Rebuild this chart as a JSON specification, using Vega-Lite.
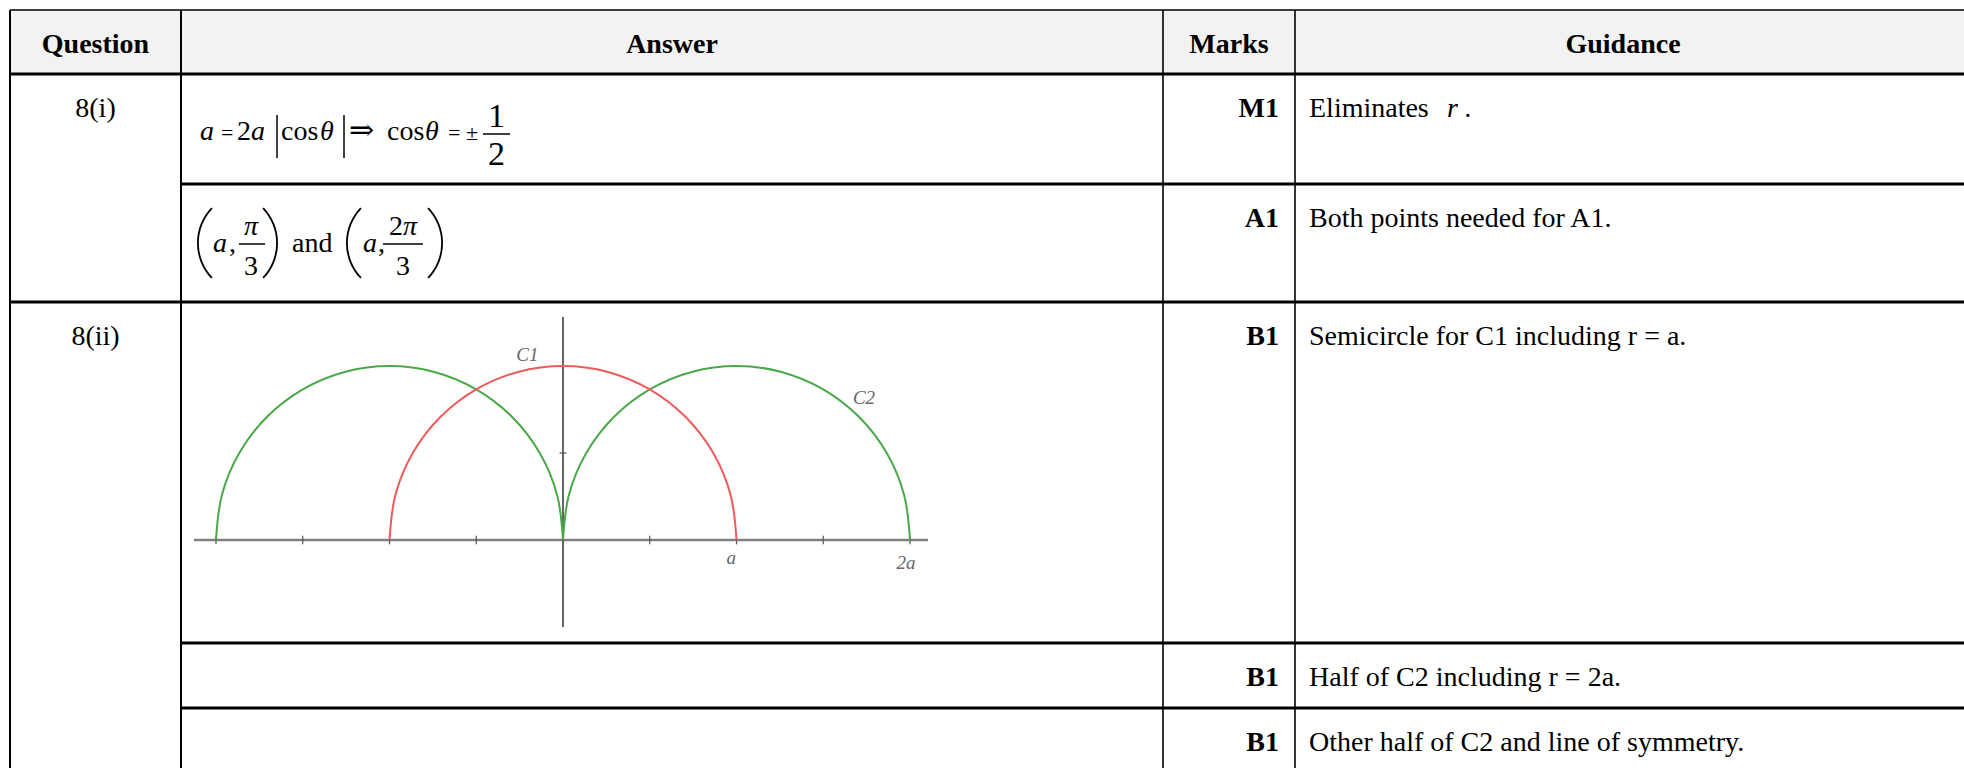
{
  "$schema": "https://vega.github.io/schema/vega-lite/v6.json",
  "width": 1964,
  "height": 768,
  "padding": 0,
  "autosize": {"type": "none"},
  "background": "#ffffff",
  "config": {"view": {"stroke": null}},
  "resolve": {"scale": {"x": "independent", "y": "independent", "size": "independent", "color": "independent", "strokeWidth": "independent"}},
  "layer": [
    {
      "layer": [
        {
          "data": {"values": [{"x0": 0, "x1": 4.1, "y0": 0, "y1": 1}]},
          "mark": {"type": "rect", "fill": "#f2f2f2"},
          "encoding": {
            "x": {"field": "x0", "type": "quantitative", "axis": null, "scale": {"domain": [0, 1, 2, 3, 4], "range": [10, 181, 1163, 1295, 1951], "zero": false, "nice": false}},
            "x2": {"field": "x1"},
            "y": {"field": "y0", "type": "quantitative", "axis": null, "scale": {"domain": [0, 1, 2, 3, 4, 5, 6], "range": [10, 74, 184, 302, 643, 708, 768], "zero": false, "nice": false}},
            "y2": {"field": "y1"}
          }
        },
        {
          "data": {"values": [
            {"x0": 0, "x1": 4.1, "y": 0, "k": "b"},
            {"x0": 0, "x1": 4.1, "y": 1, "k": "t"},
            {"x0": 1, "x1": 4.1, "y": 2, "k": "t"},
            {"x0": 0, "x1": 4.1, "y": 3, "k": "t"},
            {"x0": 1, "x1": 4.1, "y": 4, "k": "t"},
            {"x0": 1, "x1": 4.1, "y": 5, "k": "t"}
          ]},
          "mark": {"type": "rule", "color": "#000000"},
          "encoding": {
            "x": {"field": "x0", "type": "quantitative", "axis": null, "scale": {"domain": [0, 1, 2, 3, 4], "range": [10, 181, 1163, 1295, 1951], "zero": false, "nice": false}},
            "x2": {"field": "x1"},
            "y": {"field": "y", "type": "quantitative", "axis": null, "scale": {"domain": [0, 1, 2, 3, 4, 5, 6], "range": [10, 74, 184, 302, 643, 708, 768], "zero": false, "nice": false}},
            "strokeWidth": {"field": "k", "type": "nominal", "legend": null, "scale": {"type": "ordinal", "domain": ["b", "t", "v", "w"], "range": [1.5, 3, 2, 1.6]}}
          }
        },
        {
          "data": {"values": [
            {"x": 0, "y0": 0, "y1": 6, "k": "v"},
            {"x": 1, "y0": 0, "y1": 6, "k": "v"},
            {"x": 2, "y0": 0, "y1": 6, "k": "w"},
            {"x": 3, "y0": 0, "y1": 6, "k": "w"}
          ]},
          "mark": {"type": "rule", "color": "#000000"},
          "encoding": {
            "x": {"field": "x", "type": "quantitative", "axis": null, "scale": {"domain": [0, 1, 2, 3, 4], "range": [10, 181, 1163, 1295, 1951], "zero": false, "nice": false}},
            "y": {"field": "y0", "type": "quantitative", "axis": null, "scale": {"domain": [0, 1, 2, 3, 4, 5, 6], "range": [10, 74, 184, 302, 643, 708, 768], "zero": false, "nice": false}},
            "y2": {"field": "y1"},
            "strokeWidth": {"field": "k", "type": "nominal", "legend": null, "scale": {"type": "ordinal", "domain": ["b", "t", "v", "w"], "range": [1.5, 3, 2, 1.6]}}
          }
        }
      ]
    },
    {
      "layer": [
        {
          "data": {"values": [{"x0": -2.127, "x1": 2.104, "gy": 0}]},
          "mark": {"type": "rule", "color": "#808080", "strokeWidth": 2.5},
          "encoding": {
            "x": {"field": "x0", "type": "quantitative", "axis": null, "scale": {"domain": [0, 1], "range": [563, 736.5], "zero": false, "nice": false}},
            "x2": {"field": "x1"},
            "y": {"field": "gy", "type": "quantitative", "axis": null, "scale": {"domain": [0, 1], "range": [540, 366], "zero": false, "nice": false}}
          }
        },
        {
          "data": {"values": [{"x0": -0.02, "x1": 0.02, "gy": 0.5}]},
          "mark": {"type": "rule", "color": "#555555", "strokeWidth": 1.2},
          "encoding": {
            "x": {"field": "x0", "type": "quantitative", "axis": null, "scale": {"domain": [0, 1], "range": [563, 736.5], "zero": false, "nice": false}},
            "x2": {"field": "x1"},
            "y": {"field": "gy", "type": "quantitative", "axis": null, "scale": {"domain": [0, 1], "range": [540, 366], "zero": false, "nice": false}}
          }
        },
        {
          "data": {"values": [{"gx": 0, "y0": -0.5, "y1": 1.282}]},
          "mark": {"type": "rule", "color": "#555555", "strokeWidth": 1.8},
          "encoding": {
            "x": {"field": "gx", "type": "quantitative", "axis": null, "scale": {"domain": [0, 1], "range": [563, 736.5], "zero": false, "nice": false}},
            "y": {"field": "y0", "type": "quantitative", "axis": null, "scale": {"domain": [0, 1], "range": [540, 366], "zero": false, "nice": false}},
            "y2": {"field": "y1"}
          }
        },
        {
          "data": {"values": [
            {"gx": -2, "y0": -0.025, "y1": 0.025},
            {"gx": -1.5, "y0": -0.025, "y1": 0.025},
            {"gx": -1, "y0": -0.025, "y1": 0.025},
            {"gx": -0.5, "y0": -0.025, "y1": 0.025},
            {"gx": 0.5, "y0": -0.025, "y1": 0.025},
            {"gx": 1, "y0": -0.025, "y1": 0.025},
            {"gx": 1.5, "y0": -0.025, "y1": 0.025},
            {"gx": 2, "y0": -0.025, "y1": 0.025}
          ]},
          "mark": {"type": "rule", "color": "#555555", "strokeWidth": 1.2},
          "encoding": {
            "x": {"field": "gx", "type": "quantitative", "axis": null, "scale": {"domain": [0, 1], "range": [563, 736.5], "zero": false, "nice": false}},
            "y": {"field": "y0", "type": "quantitative", "axis": null, "scale": {"domain": [0, 1], "range": [540, 366], "zero": false, "nice": false}},
            "y2": {"field": "y1"}
          }
        },
        {
          "data": {"values": [
            {"curve": "C2L", "i": 0, "gx": 0, "gy": 0},
            {"curve": "C2L", "i": 1, "gx": -0.034, "gy": 0.259},
            {"curve": "C2L", "i": 2, "gx": -0.134, "gy": 0.5},
            {"curve": "C2L", "i": 3, "gx": -0.293, "gy": 0.707},
            {"curve": "C2L", "i": 4, "gx": -0.5, "gy": 0.866},
            {"curve": "C2L", "i": 5, "gx": -0.741, "gy": 0.966},
            {"curve": "C2L", "i": 6, "gx": -1, "gy": 1},
            {"curve": "C2L", "i": 7, "gx": -1.259, "gy": 0.966},
            {"curve": "C2L", "i": 8, "gx": -1.5, "gy": 0.866},
            {"curve": "C2L", "i": 9, "gx": -1.707, "gy": 0.707},
            {"curve": "C2L", "i": 10, "gx": -1.866, "gy": 0.5},
            {"curve": "C2L", "i": 11, "gx": -1.966, "gy": 0.259},
            {"curve": "C2L", "i": 12, "gx": -2, "gy": 0},
            {"curve": "C2R", "i": 0, "gx": 2, "gy": 0},
            {"curve": "C2R", "i": 1, "gx": 1.966, "gy": 0.259},
            {"curve": "C2R", "i": 2, "gx": 1.866, "gy": 0.5},
            {"curve": "C2R", "i": 3, "gx": 1.707, "gy": 0.707},
            {"curve": "C2R", "i": 4, "gx": 1.5, "gy": 0.866},
            {"curve": "C2R", "i": 5, "gx": 1.259, "gy": 0.966},
            {"curve": "C2R", "i": 6, "gx": 1, "gy": 1},
            {"curve": "C2R", "i": 7, "gx": 0.741, "gy": 0.966},
            {"curve": "C2R", "i": 8, "gx": 0.5, "gy": 0.866},
            {"curve": "C2R", "i": 9, "gx": 0.293, "gy": 0.707},
            {"curve": "C2R", "i": 10, "gx": 0.134, "gy": 0.5},
            {"curve": "C2R", "i": 11, "gx": 0.034, "gy": 0.259},
            {"curve": "C2R", "i": 12, "gx": 0, "gy": 0},
            {"curve": "C1", "i": 0, "gx": 1, "gy": 0},
            {"curve": "C1", "i": 1, "gx": 0.966, "gy": 0.259},
            {"curve": "C1", "i": 2, "gx": 0.866, "gy": 0.5},
            {"curve": "C1", "i": 3, "gx": 0.707, "gy": 0.707},
            {"curve": "C1", "i": 4, "gx": 0.5, "gy": 0.866},
            {"curve": "C1", "i": 5, "gx": 0.259, "gy": 0.966},
            {"curve": "C1", "i": 6, "gx": 0, "gy": 1},
            {"curve": "C1", "i": 7, "gx": -0.259, "gy": 0.966},
            {"curve": "C1", "i": 8, "gx": -0.5, "gy": 0.866},
            {"curve": "C1", "i": 9, "gx": -0.707, "gy": 0.707},
            {"curve": "C1", "i": 10, "gx": -0.866, "gy": 0.5},
            {"curve": "C1", "i": 11, "gx": -0.966, "gy": 0.259},
            {"curve": "C1", "i": 12, "gx": -1, "gy": 0}
          ]},
          "mark": {"type": "line", "strokeWidth": 2, "interpolate": "catmull-rom"},
          "encoding": {
            "x": {"field": "gx", "type": "quantitative", "axis": null, "scale": {"domain": [0, 1], "range": [563, 736.5], "zero": false, "nice": false}},
            "y": {"field": "gy", "type": "quantitative", "axis": null, "scale": {"domain": [0, 1], "range": [540, 366], "zero": false, "nice": false}},
            "order": {"field": "i", "type": "quantitative"},
            "color": {"field": "curve", "type": "nominal", "legend": null, "scale": {"domain": ["C2L", "C2R", "C1"], "range": ["#4aa84a", "#4aa84a", "#f05a5a"]}}
          }
        },
        {
          "data": {"values": [
            {"t": "C1", "gx": -0.205, "gy": 1.063},
            {"t": "C2", "gx": 1.735, "gy": 0.816},
            {"t": "a", "gx": 0.97, "gy": -0.103},
            {"t": "2a", "gx": 1.977, "gy": -0.132}
          ]},
          "mark": {"type": "text", "font": "Liberation Serif", "fontStyle": "italic", "fontSize": 19, "color": "#666666", "align": "center", "baseline": "middle"},
          "encoding": {
            "x": {"field": "gx", "type": "quantitative", "axis": null, "scale": {"domain": [0, 1], "range": [563, 736.5], "zero": false, "nice": false}},
            "y": {"field": "gy", "type": "quantitative", "axis": null, "scale": {"domain": [0, 1], "range": [540, 366], "zero": false, "nice": false}},
            "text": {"field": "t"}
          }
        }
      ]
    },
    {
      "layer": [
        {
          "data": {"values": [
            {"col": 0, "row": 0, "t": "Question"},
            {"col": 1, "row": 0, "t": "Answer"},
            {"col": 2, "row": 0, "t": "Marks"},
            {"col": 3, "row": 0, "t": "Guidance"}
          ]},
          "mark": {"type": "text", "font": "Liberation Serif", "fontWeight": "bold", "fontSize": 28, "color": "#000000", "align": "center", "baseline": "alphabetic", "dy": 43},
          "encoding": {
            "x": {"field": "col", "type": "quantitative", "axis": null, "scale": {"domain": [0, 1, 2, 3], "range": [95.5, 672, 1229, 1623], "zero": false, "nice": false}},
            "y": {"field": "row", "type": "quantitative", "axis": null, "scale": {"domain": [0, 1, 2, 3, 4, 5, 6], "range": [10, 74, 184, 302, 643, 708, 768], "zero": false, "nice": false}},
            "text": {"field": "t"}
          }
        },
        {
          "data": {"values": [
            {"col": 0, "row": 1, "t": "8(i)"},
            {"col": 0, "row": 3, "t": "8(ii)"}
          ]},
          "mark": {"type": "text", "font": "Liberation Serif", "fontSize": 28, "color": "#000000", "align": "center", "baseline": "alphabetic", "dy": 43},
          "encoding": {
            "x": {"field": "col", "type": "quantitative", "axis": null, "scale": {"domain": [0, 1, 2, 3], "range": [95.5, 672, 1229, 1623], "zero": false, "nice": false}},
            "y": {"field": "row", "type": "quantitative", "axis": null, "scale": {"domain": [0, 1, 2, 3, 4, 5, 6], "range": [10, 74, 184, 302, 643, 708, 768], "zero": false, "nice": false}},
            "text": {"field": "t"}
          }
        },
        {
          "data": {"values": [
            {"col": 2, "row": 1, "t": "M1"},
            {"col": 2, "row": 2, "t": "A1"},
            {"col": 2, "row": 3, "t": "B1"},
            {"col": 2, "row": 4, "t": "B1"},
            {"col": 2, "row": 5, "t": "B1"}
          ]},
          "mark": {"type": "text", "font": "Liberation Serif", "fontWeight": "bold", "fontSize": 28, "color": "#000000", "align": "right", "baseline": "alphabetic", "dx": 50, "dy": 43},
          "encoding": {
            "x": {"field": "col", "type": "quantitative", "axis": null, "scale": {"domain": [0, 1, 2, 3], "range": [95.5, 672, 1229, 1623], "zero": false, "nice": false}},
            "y": {"field": "row", "type": "quantitative", "axis": null, "scale": {"domain": [0, 1, 2, 3, 4, 5, 6], "range": [10, 74, 184, 302, 643, 708, 768], "zero": false, "nice": false}},
            "text": {"field": "t"}
          }
        },
        {
          "data": {"values": [
            {"col": 3, "row": 1, "t": "Eliminates"},
            {"col": 3, "row": 2, "t": "Both points needed for A1."},
            {"col": 3, "row": 3, "t": "Semicircle for C1 including r = a."},
            {"col": 3, "row": 4, "t": "Half of C2 including r = 2a."},
            {"col": 3, "row": 5, "t": "Other half of C2 and line of symmetry."}
          ]},
          "mark": {"type": "text", "font": "Liberation Serif", "fontSize": 28, "color": "#000000", "align": "left", "baseline": "alphabetic", "dx": -314, "dy": 43},
          "encoding": {
            "x": {"field": "col", "type": "quantitative", "axis": null, "scale": {"domain": [0, 1, 2, 3], "range": [95.5, 672, 1229, 1623], "zero": false, "nice": false}},
            "y": {"field": "row", "type": "quantitative", "axis": null, "scale": {"domain": [0, 1, 2, 3, 4, 5, 6], "range": [10, 74, 184, 302, 643, 708, 768], "zero": false, "nice": false}},
            "text": {"field": "t"}
          }
        },
        {
          "data": {"values": [{"col": 3, "row": 1, "t": "r\u00a0."}]},
          "mark": {"type": "text", "font": "Liberation Serif", "fontStyle": "italic", "fontSize": 28, "color": "#000000", "align": "left", "baseline": "alphabetic", "dx": -176, "dy": 43},
          "encoding": {
            "x": {"field": "col", "type": "quantitative", "axis": null, "scale": {"domain": [0, 1, 2, 3], "range": [95.5, 672, 1229, 1623], "zero": false, "nice": false}},
            "y": {"field": "row", "type": "quantitative", "axis": null, "scale": {"domain": [0, 1, 2, 3, 4, 5, 6], "range": [10, 74, 184, 302, 643, 708, 768], "zero": false, "nice": false}},
            "text": {"field": "t"}
          }
        }
      ]
    },
    {
      "layer": [
        {
          "data": {"values": [
            {"p": 0, "s": 0, "t": "a", "role": "main"},
            {"p": 3, "s": 0, "t": "a", "role": "main"},
            {"p": 6, "s": 0, "t": "θ", "role": "main"},
            {"p": 10, "s": 0, "t": "θ", "role": "main"},
            {"p": 17, "s": 6, "t": "a", "role": "main"},
            {"p": 20, "s": 7, "t": "π", "role": "main"},
            {"p": 25, "s": 6, "t": "a", "role": "main"},
            {"p": 29, "s": 7, "t": "π", "role": "main"}
          ]},
          "mark": {"type": "text", "font": "Liberation Serif", "fontStyle": "italic", "color": "#000000", "align": "left", "baseline": "alphabetic"},
          "encoding": {
            "x": {"field": "p", "type": "quantitative", "axis": null, "scale": {"domain": [0,1,2,3,4,5,6,7,8,9,10,11,12,13,14,15,16,17,18,19,20,21,22,23,24,25,26,27,28,29,30,31,32,33,34,35,36], "range": [200,221,237,251,277,281,320,344,349,387,425,448,466,483,488,510,192,213,229,239,244,265,260,292,341,363,378,383,389,403,396,423,424,248.5,226.5,397.5,391.5], "zero": false, "nice": false}},
            "y": {"field": "s", "type": "quantitative", "axis": null, "scale": {"domain": [0,1,2,3,4,5,6,7,8,9,10,11], "range": [140,127,165,134,115,158,252,235,275,244,261,243], "zero": false, "nice": false}},
            "size": {"field": "role", "type": "nominal", "legend": null, "scale": {"type": "ordinal", "domain": ["main", "op", "frac"], "range": [28, 22, 34]}},
            "text": {"field": "t"}
          }
        },
        {
          "data": {"values": [
            {"p": 1, "s": 0, "t": "=", "role": "op"},
            {"p": 2, "s": 0, "t": "2", "role": "main"},
            {"p": 5, "s": 0, "t": "cos", "role": "main"},
            {"p": 9, "s": 0, "t": "cos", "role": "main"},
            {"p": 11, "s": 0, "t": "=", "role": "op"},
            {"p": 12, "s": 0, "t": "±", "role": "op"},
            {"p": 14, "s": 1, "t": "1", "role": "frac"},
            {"p": 14, "s": 2, "t": "2", "role": "frac"},
            {"p": 18, "s": 6, "t": ",", "role": "main"},
            {"p": 20, "s": 8, "t": "3", "role": "main"},
            {"p": 23, "s": 6, "t": "and", "role": "main"},
            {"p": 26, "s": 6, "t": ",", "role": "main"},
            {"p": 28, "s": 7, "t": "2", "role": "main"},
            {"p": 30, "s": 8, "t": "3", "role": "main"}
          ]},
          "mark": {"type": "text", "font": "Liberation Serif", "color": "#000000", "align": "left", "baseline": "alphabetic"},
          "encoding": {
            "x": {"field": "p", "type": "quantitative", "axis": null, "scale": {"domain": [0,1,2,3,4,5,6,7,8,9,10,11,12,13,14,15,16,17,18,19,20,21,22,23,24,25,26,27,28,29,30,31,32,33,34,35,36], "range": [200,221,237,251,277,281,320,344,349,387,425,448,466,483,488,510,192,213,229,239,244,265,260,292,341,363,378,383,389,403,396,423,424,248.5,226.5,397.5,391.5], "zero": false, "nice": false}},
            "y": {"field": "s", "type": "quantitative", "axis": null, "scale": {"domain": [0,1,2,3,4,5,6,7,8,9,10,11], "range": [140,127,165,134,115,158,252,235,275,244,261,243], "zero": false, "nice": false}},
            "size": {"field": "role", "type": "nominal", "legend": null, "scale": {"type": "ordinal", "domain": ["main", "op", "frac"], "range": [28, 22, 34]}},
            "text": {"field": "t"}
          }
        },
        {
          "data": {"values": [
            {"p": 8, "s": 0, "t": "⇒"}
          ]},
          "mark": {"type": "text", "font": "DejaVu Serif", "fontSize": 30, "color": "#000000", "align": "left", "baseline": "alphabetic"},
          "encoding": {
            "x": {"field": "p", "type": "quantitative", "axis": null, "scale": {"domain": [0,1,2,3,4,5,6,7,8,9,10,11,12,13,14,15,16,17,18,19,20,21,22,23,24,25,26,27,28,29,30,31,32,33,34,35,36], "range": [200,221,237,251,277,281,320,344,349,387,425,448,466,483,488,510,192,213,229,239,244,265,260,292,341,363,378,383,389,403,396,423,424,248.5,226.5,397.5,391.5], "zero": false, "nice": false}},
            "y": {"field": "s", "type": "quantitative", "axis": null, "scale": {"domain": [0,1,2,3,4,5,6,7,8,9,10,11], "range": [140,127,165,134,115,158,252,235,275,244,261,243], "zero": false, "nice": false}},
            "text": {"field": "t"}
          }
        },
        {
          "data": {"values": [
            {"p": 33, "s": 11},
            {"p": 35, "s": 11}
          ]},
          "mark": {"type": "arc", "color": "#000000", "radius": 51.5, "radius2": 49.7, "theta": 3.95, "theta2": 5.475},
          "encoding": {
            "x": {"field": "p", "type": "quantitative", "axis": null, "scale": {"domain": [0,1,2,3,4,5,6,7,8,9,10,11,12,13,14,15,16,17,18,19,20,21,22,23,24,25,26,27,28,29,30,31,32,33,34,35,36], "range": [200,221,237,251,277,281,320,344,349,387,425,448,466,483,488,510,192,213,229,239,244,265,260,292,341,363,378,383,389,403,396,423,424,248.5,226.5,397.5,391.5], "zero": false, "nice": false}},
            "y": {"field": "s", "type": "quantitative", "axis": null, "scale": {"domain": [0,1,2,3,4,5,6,7,8,9,10,11], "range": [140,127,165,134,115,158,252,235,275,244,261,243], "zero": false, "nice": false}}
          }
        },
        {
          "data": {"values": [
            {"p": 34, "s": 11},
            {"p": 36, "s": 11}
          ]},
          "mark": {"type": "arc", "color": "#000000", "radius": 51.5, "radius2": 49.7, "theta": 0.808, "theta2": 2.333},
          "encoding": {
            "x": {"field": "p", "type": "quantitative", "axis": null, "scale": {"domain": [0,1,2,3,4,5,6,7,8,9,10,11,12,13,14,15,16,17,18,19,20,21,22,23,24,25,26,27,28,29,30,31,32,33,34,35,36], "range": [200,221,237,251,277,281,320,344,349,387,425,448,466,483,488,510,192,213,229,239,244,265,260,292,341,363,378,383,389,403,396,423,424,248.5,226.5,397.5,391.5], "zero": false, "nice": false}},
            "y": {"field": "s", "type": "quantitative", "axis": null, "scale": {"domain": [0,1,2,3,4,5,6,7,8,9,10,11], "range": [140,127,165,134,115,158,252,235,275,244,261,243], "zero": false, "nice": false}}
          }
        },
        {
          "data": {"values": [
            {"p": 13, "p2": 15, "s": 3},
            {"p": 19, "p2": 21, "s": 9},
            {"p": 27, "p2": 31, "s": 9}
          ]},
          "mark": {"type": "rule", "color": "#000000", "strokeWidth": 1.5},
          "encoding": {
            "x": {"field": "p", "type": "quantitative", "axis": null, "scale": {"domain": [0,1,2,3,4,5,6,7,8,9,10,11,12,13,14,15,16,17,18,19,20,21,22,23,24,25,26,27,28,29,30,31,32,33,34,35,36], "range": [200,221,237,251,277,281,320,344,349,387,425,448,466,483,488,510,192,213,229,239,244,265,260,292,341,363,378,383,389,403,396,423,424,248.5,226.5,397.5,391.5], "zero": false, "nice": false}},
            "x2": {"field": "p2"},
            "y": {"field": "s", "type": "quantitative", "axis": null, "scale": {"domain": [0,1,2,3,4,5,6,7,8,9,10,11], "range": [140,127,165,134,115,158,252,235,275,244,261,243], "zero": false, "nice": false}}
          }
        },
        {
          "data": {"values": [
            {"p": 4, "s": 4, "s2": 5},
            {"p": 7, "s": 4, "s2": 5}
          ]},
          "mark": {"type": "rule", "color": "#000000", "strokeWidth": 1.5},
          "encoding": {
            "x": {"field": "p", "type": "quantitative", "axis": null, "scale": {"domain": [0,1,2,3,4,5,6,7,8,9,10,11,12,13,14,15,16,17,18,19,20,21,22,23,24,25,26,27,28,29,30,31,32,33,34,35,36], "range": [200,221,237,251,277,281,320,344,349,387,425,448,466,483,488,510,192,213,229,239,244,265,260,292,341,363,378,383,389,403,396,423,424,248.5,226.5,397.5,391.5], "zero": false, "nice": false}},
            "y": {"field": "s", "type": "quantitative", "axis": null, "scale": {"domain": [0,1,2,3,4,5,6,7,8,9,10,11], "range": [140,127,165,134,115,158,252,235,275,244,261,243], "zero": false, "nice": false}},
            "y2": {"field": "s2"}
          }
        }
      ]
    }
  ]
}
